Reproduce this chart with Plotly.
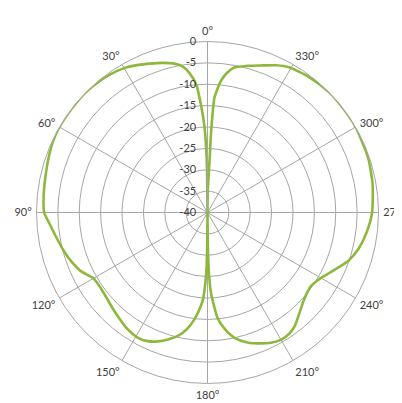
import plotly.graph_objects as go

# Radiation pattern (dB), angle measured counter-clockwise from top
theta_deg = [0, 0.6, 1.2, 2.0, 3.4, 5.0, 7.5, 10, 13, 17, 21, 25, 30, 35, 40, 45, 50, 55, 60, 65, 70, 75, 80, 85, 90,
             95, 100, 105, 110, 115, 120, 125, 130, 135, 140, 145, 151, 155, 159, 163, 166.5, 170, 173, 175, 177, 178.8, 179.5, 180,
             180.6, 181.5, 182.6, 185.6, 189, 192.2, 197, 202.3, 206, 210.2, 214, 217.5, 222, 228, 234.7, 240.2, 243, 246, 251, 256.3, 262.8, 270,
             280, 289, 300, 308, 315, 323, 330.5, 335, 340, 345, 349.5, 352, 354.1, 356.5, 357.4, 357.8, 359.4, 360]
gain_db = [-40, -30, -25, -20, -15, -10, -7, -5.2, -4.2, -3.4, -2.7, -1.9, -1.0, -0.5, -0.2, 0, 0, 0, 0, -0.2, -0.6, -1.0, -1.3, -1.5, -1.8,
           -3.2, -4.3, -5.2, -6.2, -7.4, -9.2, -9.4, -9.1, -8.5, -7.8, -7.0, -6.5, -6.8, -7.7, -9.0, -10.3, -12.3, -14.8, -17, -19.6, -26, -32, -40,
           -32, -25, -21, -15, -12, -10, -8.2, -6.9, -6.1, -5.6, -5.8, -6.5, -8.0, -9.6, -10.3, -9.3, -8.4, -7.3, -5.2, -3.7, -2.5, -1.5,
           -0.8, -0.3, 0, 0, 0, -0.4, -1.0, -2.0, -3.4, -4.5, -5.5, -7.0, -9.0, -13, -20.9, -28.7, -35, -40]

radial_ticks = [-40, -35, -30, -25, -20, -15, -10, -5, 0]
angle_ticks = [0, 30, 60, 90, 120, 150, 180, 210, 240, 270, 300, 330]
angle_labels = [f"{a}°" for a in angle_ticks]

fig = go.Figure()
fig.add_trace(go.Scatterpolar(
    theta=theta_deg, r=gain_db, mode="lines",
    line=dict(color="#8DB83C", width=2.6, shape="spline", smoothing=0.6),
    showlegend=False, hoverinfo="skip",
))

W, H = 402, 403
cx, cy, R = 199.5, 204.5, 171.0   # page offset compensated
grid_col = "#A6A6A6"
fig.update_layout(
    width=W, height=H,
    margin=dict(l=0, r=0, t=0, b=0, autoexpand=False),
    paper_bgcolor="white",
    font=dict(family="Lato, Open Sans, sans-serif", size=11, color="#404040"),
    polar=dict(
        domain=dict(x=[(cx - R) / W, (cx + R) / W], y=[1 - (cy + R) / H, 1 - (cy - R) / H]),
        bgcolor="white",
        radialaxis=dict(
            range=[-40, 0], tickvals=radial_ticks, ticktext=[str(v) for v in radial_ticks],
            angle=90, tickangle=90, side="counterclockwise",
            showline=True, linecolor=grid_col, linewidth=1,
            gridcolor=grid_col, gridwidth=0.8,
            ticks="outside", ticklen=7, tickcolor="rgba(0,0,0,0)",
            tickfont=dict(size=11, color="#404040"),
        ),
        angularaxis=dict(
            rotation=90, direction="counterclockwise",
            tickvals=angle_ticks, ticktext=angle_labels,
            showline=True, linecolor=grid_col, linewidth=1,
            gridcolor=grid_col, gridwidth=0.8,
            ticks="outside", ticklen=2, tickcolor="rgba(0,0,0,0)",
            tickfont=dict(size=11, color="#404040"),
        ),
    ),
)

fig.write_html("out.html")
